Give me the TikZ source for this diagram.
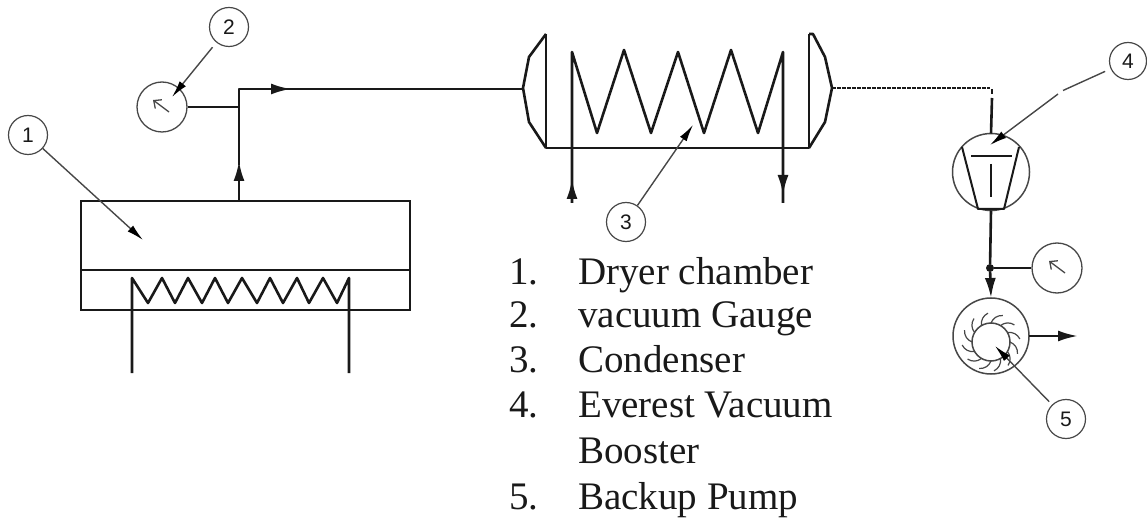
\documentclass[tikz,border=0pt]{standalone}
\usepackage{fontspec}
\setmainfont{Liberation Serif}
\usepackage{tikz}
\usetikzlibrary{arrows.meta,calc}
\definecolor{inkline}{gray}{0.1}
\definecolor{thinline}{gray}{0.28}
\newfontfamily\balloonfont{Liberation Sans}
\tikzset{
	pipe/.style={line width=2.6pt, color=inkline, line join=round},
	pipehead/.style={pipe, -{Latex[length=20pt,width=11pt]}},
	balloon/.style={circle, draw=thinline, line width=1.2pt, inner sep=0pt, minimum width=39pt, font=\balloonfont\fontsize{21}{21}\selectfont, text=inkline},
	leader/.style={line width=1.4pt, color=thinline, -{Latex[length=17pt,width=8pt,color=black]}},
	dial/.style={circle, draw=thinline, line width=1.3pt, inner sep=0pt, minimum size=50pt},
	needle/.style={line width=1.3pt, color=thinline, -{Straight Barb[length=6pt,width=11pt]}},
	vessel/.style={rectangle, draw=inkline, line width=2.6pt, inner sep=0pt, outer sep=0pt},
	machine/.style={circle, draw=thinline, line width=1.5pt, inner sep=0pt, outer sep=0pt},
	listtext/.style={anchor=base west, inner sep=0pt, font=\fontsize{39}{39}\selectfont, text=inkline}
}
\begin{document}
\begin{tikzpicture}[x=1pt, y=-1pt]
	\useasboundingbox (0,0) rectangle (1147,518);
	
	\node [vessel, minimum width=329pt, minimum height=109pt] (chamber) at (245.5,255.5) {};
	\draw [pipe] (chamber.west |- 0,270) -- (chamber.east |- 0,270);
	\draw [pipe] (132,373) -- (132,278) -- (148,303) -- (162,278) -- (175,303) -- (188,278) -- (202,303) -- (215,278) -- (228,303) -- (242,278) -- (257,303) -- (270,278) -- (283,303) -- (297,278) -- (309,303) -- (323,278) -- (337,303) -- (349,278) -- (349,373);
	
	\coordinate (outlet) at (239,201);
	\coordinate (teeA) at (239,107);
	\coordinate (elbow) at (239,89);
	\coordinate (inlet) at (523,89);
	\draw [pipehead] (outlet) -- (239,161);
	\draw [pipe] (239,165) -- (elbow) -- (inlet);
	\draw [pipehead] (elbow) -- (291,89);
	
	\node [dial] (gaugeA) at (162,107) {};
	\draw [pipe] (gaugeA) -- (teeA);
	\draw [needle] (169,112) -- (153,100);
	
	\draw [pipe] (546,34) -- (546,148) -- (809,148) -- (809,34);
	\draw [pipe] (546,34) -- (529,57) -- (523,88) -- (529,122) -- (546,148);
	\draw [pipe] (809,34) -- (813,34) -- (825,57) -- (832,88) -- (825,122) -- (809,148);
	\draw [pipe] (572,203) -- (572,52) -- (597,133) -- (624,50) -- (651,133) -- (678,52) -- (704,133) -- (731,50) -- (758,133) -- (783,52) -- (783,203);
	\draw [pipehead] (572,203) -- (572,179);
	\draw [pipehead] (783,170) -- (783,195);
	
	\draw [line width=1.5pt, color=inkline, dash pattern=on 3.5pt off 1.5pt] (832,88) -- (990,88);
	\draw [line width=1.5pt, color=inkline] (992,89) -- (992,94);
	
	\node [machine, minimum size=77pt] (booster) at (991,172) {};
	\draw [pipe] (992,98) -- (booster.north);
	\draw [pipe, line width=2pt] (962,147) -- (978,209) -- (1004,209) -- (1019,147);
	\draw [pipe, line width=2pt] (971,156) -- (1012,156);
	\draw [pipe, line width=2pt] (991,164) -- (991,197);
	
	\node [circle, fill=inkline, inner sep=0pt, minimum size=8pt] (junction) at (990,268) {};
	\node [dial] (gaugeB) at (1057,268) {};
	\node [machine, minimum size=76pt] (pump) at (991,336) {};
	\node [machine, minimum size=38pt] (rotor) at (991,342) {};
	\draw [pipe] (booster.south) -- (junction);
	\draw [pipe] (junction) -- (gaugeB);
	\draw [pipehead] (junction) -- (pump.north);
	\draw [needle] (1065,273) -- (1049,261);
	
	\foreach \a in {0,30,...,330}
		\draw [color=thinline, line width=1.2pt] ($(rotor)+(\a:19)$) to [bend left=35] ($(rotor)+(\a+24:29)$);
	
	\coordinate (pumpout) at (1078,336);
	\draw [pipehead] (pump.east) -- (pumpout);
	
	\node [balloon] (ballA) at (28,135) {1};
	\node [balloon] (ballB) at (229,27) {2};
	\node [balloon] (ballC) at (626,222) {3};
	\node [balloon, minimum width=37pt] (ballD) at (1128,61) {4};
	\node [balloon] (ballE) at (1066,419) {5};
	
	\coordinate (tipA) at (143,240);
	\coordinate (tipB) at (172,97);
	\coordinate (tipC) at (693,125);
	\coordinate (gapD) at (1063,90.5);
	\coordinate (restartD) at (1058,94);
	\coordinate (tipD) at (990,145);
	\coordinate (tipE) at (995,346);
	\draw [leader] (ballA) -- (tipA);
	\draw [leader, shorten <=6pt] (ballB) -- (tipB);
	\draw [leader] (ballC) -- (tipC);
	\draw [line width=1.4pt, color=thinline, shorten <=6pt] (ballD) -- (gapD);
	\draw [leader] (restartD) -- (tipD);
	\draw [leader, shorten <=4pt] (ballE) -- (tipE);
	
	\node [listtext] (numA) at (509,284) {1.};
	\node [listtext] (numB) at (509,327) {2.};
	\node [listtext] (numC) at (509,372) {3.};
	\node [listtext] (numD) at (509,417) {4.};
	\node [listtext] (numE) at (509,509) {5.};
	\node [listtext] (itemA) at (578,284) {Dryer chamber};
	\node [listtext] (itemB) at (578,327) {vacuum Gauge};
	\node [listtext] (itemC) at (578,372) {Condenser};
	\node [listtext] (itemD) at (578,417) {Everest Vacuum};
	\node [listtext] (itemDb) at (578,463) {Booster};
	\node [listtext] (itemE) at (578,509) {Backup Pump};
\end{tikzpicture}
\end{document}
